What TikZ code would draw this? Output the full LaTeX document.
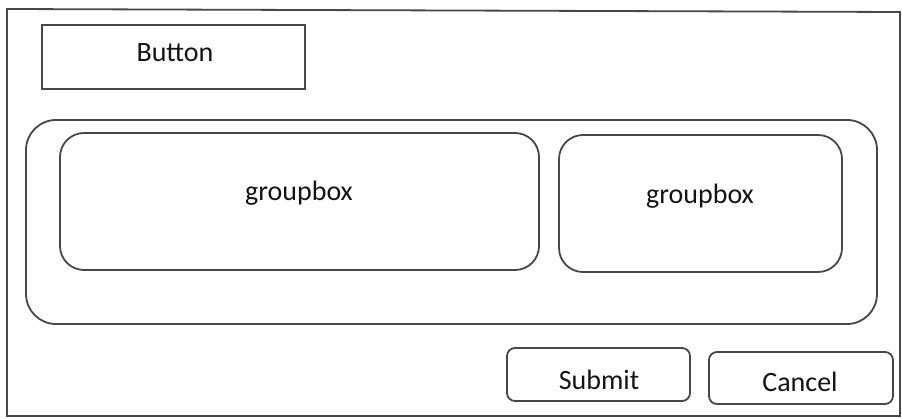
\documentclass[tikz,border=0pt]{standalone}
\usepackage{fontspec}
\setmainfont{Carlito}
\begin{document}
\begin{tikzpicture}[x=1pt,y=-1pt,
  line/.style={draw=black!72,line width=1.8pt},
  frame/.style={line},
  btn/.style={line,rectangle,inner sep=0pt},
  gbox/.style={line,rectangle,rounded corners=24pt,inner sep=0pt},
  rbtn/.style={line,rectangle,rounded corners=8pt,inner sep=0pt},
  lbl/.style={font=\fontsize{28}{32}\selectfont,text=black!92,inner sep=0pt}]
\useasboundingbox (0,0) rectangle (902,419);
% window frame
\draw[frame] (7,9) -- (900,12) -- (900,416) -- (7,416) -- cycle;
% top-left button
\node[btn,minimum width=263pt,minimum height=64pt] (b) at (173.5,57) {};
\node[lbl] (bt) at (175,53) {Button};
% container and group boxes
\node[gbox,rounded corners=30pt,minimum width=851pt,minimum height=204pt] (c) at (451.5,222) {};
\node[gbox,minimum width=479pt,minimum height=137pt] (g1) at (299.5,201.5) {};
\node[lbl] (g1t) at (299,193) {groupbox};
\node[gbox,minimum width=283pt,minimum height=137pt] (g2) at (700.5,203.5) {};
\node[lbl] (g2t) at (700,196) {groupbox};
% dialog buttons
\node[rbtn,minimum width=183pt,minimum height=53pt] (s) at (598.5,374.5) {};
\node[lbl] (st) at (599,380) {Submit};
\node[rbtn,minimum width=184pt,minimum height=52pt] (cn) at (801,378) {};
\node[lbl] (ct) at (800,382) {Cancel};
\end{tikzpicture}
\end{document}
